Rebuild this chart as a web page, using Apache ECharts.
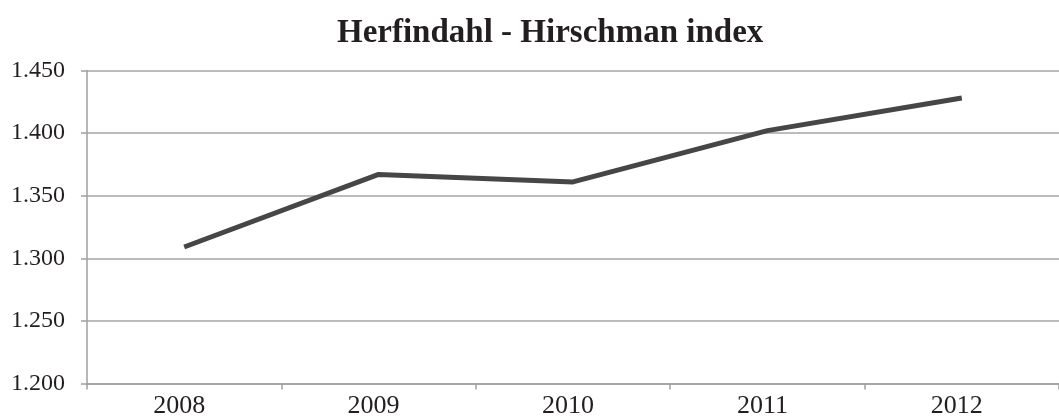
<!DOCTYPE html>
<html>
<head>
<meta charset="utf-8">
<script src="https://cdn.jsdelivr.net/npm/echarts@6/dist/echarts.min.js"></script>
<style>
  html, body { margin: 0; padding: 0; background: #fff; }
  #chart { width: 1059px; height: 417px; }
</style>
</head>
<body>
<div id="chart"></div>
<script>
// chart data
const years = ['2008', '2009', '2010', '2011', '2012']
const hhiValues = [1.309, 1.367, 1.361, 1.402, 1.428]
const yMin = 1.2
const yMax = 1.45
const yStep = 0.05

const myChart = echarts.init(document.getElementById('chart'))
const serif = '"Liberation Serif", "DejaVu Serif", serif'

const option = {
    animation: false,
    title: {
        text: 'Herfindahl - Hirschman index',
        left: 332,
        top: 12,
        textStyle: {
            fontFamily: serif,
            fontSize: 33,
            fontWeight: 'bold',
            color: '#231f20'
        }
    },
    grid: {
        left: 87,
        top: 70.5,
        bottom: 33.5,
        right: 0,
        containLabel: false,
        outerBoundsMode: 'none'
    },
    xAxis: {
        type: 'category',
        data: years,
        boundaryGap: true,
        axisLine: { lineStyle: { color: '#a0a0a0', width: 1.5 } },
        axisTick: { show: true, length: 6, lineStyle: { color: '#a0a0a0', width: 1.5 } },
        axisLabel: {
            color: '#231f20',
            fontFamily: serif,
            fontSize: 26,
            margin: 10,
            padding: [0, 10, 0, 0]
        }
    },
    yAxis: {
        type: 'value',
        min: yMin,
        max: yMax,
        interval: yStep,
        axisLine: { show: true, lineStyle: { color: '#a0a0a0', width: 1.5 } },
        axisTick: { show: true, length: 6, lineStyle: { color: '#a0a0a0', width: 1.5 } },
        axisLabel: {
            color: '#231f20',
            fontFamily: serif,
            fontSize: 24,
            margin: 22,
            formatter: (v) => v.toFixed(3)
        },
        splitLine: { lineStyle: { color: '#a6a6a6', width: 1.5 } }
    },
    series: [
        {
            name: 'HHI',
            type: 'line',
            data: hhiValues,
            symbol: 'none',
            lineStyle: { color: '#464646', width: 5 }
        }
    ]
}

myChart.setOption(option)
</script>
</body>
</html>
